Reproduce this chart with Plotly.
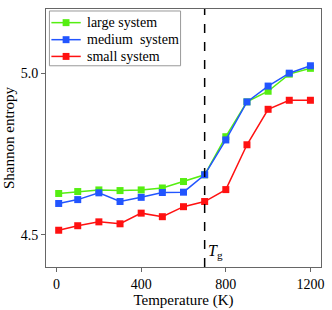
import plotly.graph_objects as go

temps = [10, 100, 200, 300, 400, 500, 600, 700, 800, 900, 1000, 1100, 1200]
large = [4.628, 4.634, 4.639, 4.637, 4.639, 4.645, 4.665, 4.686, 4.804, 4.912, 4.945, 4.998, 5.016]
medium = [4.597, 4.609, 4.630, 4.603, 4.616, 4.631, 4.632, 4.686, 4.794, 4.912, 4.961, 5.001, 5.024]
small = [4.514, 4.528, 4.540, 4.534, 4.567, 4.556, 4.587, 4.603, 4.640, 4.779, 4.889, 4.917, 4.917]
names = ["large system", "medium&nbsp; system", "small system"]
colors = ["#55ee11", "#2255ff", "#ff1111"]
tg = 700

W, H = 332, 310
ML, MR, MT, MB = 42, 9, 8, 43
PW, PH = W - ML - MR, H - MT - MB


def px(x):
    return (x - ML) / PW


def py(y):
    return (H - MB - y) / PH


font = "Liberation Serif, Times New Roman, serif"
fig = go.Figure()
for name, ys, c in zip(names, [large, medium, small], colors):
    fig.add_trace(go.Scatter(x=temps, y=ys, name=name, mode="lines+markers",
                             line=dict(color=c, width=1.5),
                             marker=dict(symbol="square", size=7, color=c),
                             showlegend=False))

fig.add_shape(type="line", x0=tg, x1=tg, y0=0, y1=1, yref="paper", xref="x",
              line=dict(color="black", width=1.5, dash="dash"))
fig.add_annotation(x=tg, y=4.447, xref="x", yref="y", text="<i>T</i><sub>g</sub>",
                   showarrow=False, xanchor="left", xshift=1,
                   font=dict(family=font, size=16, color="black"))

# legend box drawn manually (compact row spacing as in reference)
fig.add_shape(type="rect", xref="paper", yref="paper",
              x0=px(45.5), x1=px(179.5), y0=py(65), y1=py(10),
              line=dict(color="#999999", width=1), fillcolor="white", layer="above")
rows = [21.7, 38.8, 55.6]
for name, c, ry in zip(names, colors, rows):
    fig.add_shape(type="line", xref="paper", yref="paper",
                  x0=px(47.5), x1=px(77.5), y0=py(ry), y1=py(ry),
                  line=dict(color=c, width=1.5), layer="above")
    fig.add_shape(type="rect", xref="paper", yref="paper",
                  x0=px(59), x1=px(66), y0=py(ry + 3.5), y1=py(ry - 3.5),
                  line=dict(color=c, width=0), fillcolor=c, layer="above")
    fig.add_annotation(xref="paper", yref="paper", x=px(82), y=py(ry), text=name,
                       showarrow=False, xanchor="left", yanchor="middle",
                       font=dict(family=font, size=14, color="black"))

fig.update_layout(
    width=W, height=H,
    margin=dict(l=ML, r=MR, t=MT, b=MB),
    paper_bgcolor="white", plot_bgcolor="white",
    font=dict(family=font, size=13, color="black"),
    showlegend=False,
    xaxis=dict(range=[-50, 1250], tickvals=[0, 400, 800, 1200],
               showgrid=False, zeroline=False, showline=True, mirror=True,
               linecolor="#666666", linewidth=1, ticks="outside", ticklen=4,
               tickcolor="#666666", tickfont=dict(size=14),
               title=dict(text="Temperature (K)", standoff=0,
                          font=dict(family=font, size=15))),
    yaxis=dict(range=[4.4, 5.2], tickvals=[4.5, 5.0], ticktext=["4.5", "5.0"],
               showgrid=False, zeroline=False, showline=True, mirror=True,
               linecolor="#666666", linewidth=1, ticks="outside", ticklen=4,
               tickcolor="#666666", tickfont=dict(size=14),
               title=dict(text="Shannon entropy", standoff=2,
                          font=dict(family=font, size=15))),
)
fig.write_html("out.html", config={"displayModeBar": False},
               post_script="document.body.style.margin='0';")
